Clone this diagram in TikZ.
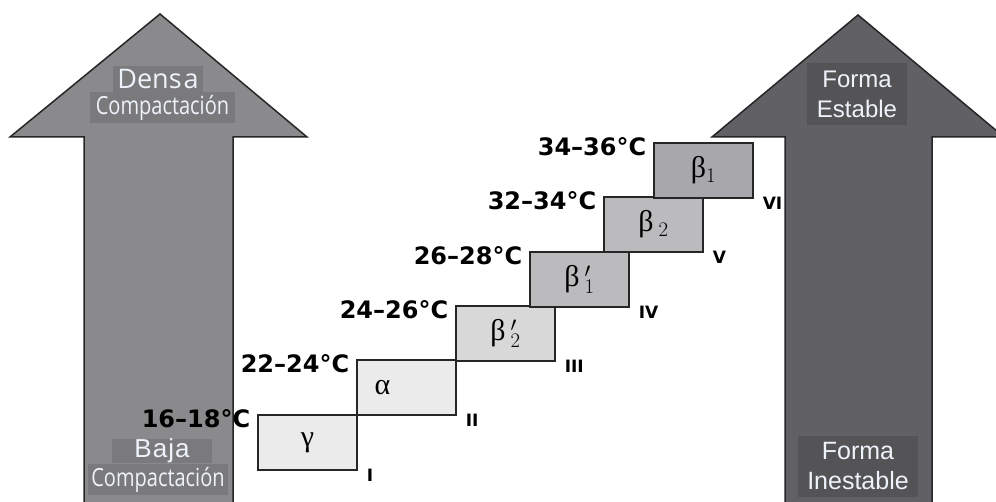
\documentclass[tikz,border=0pt]{standalone}
\usepackage{fontspec}
\setmainfont{Liberation Sans}
\newfontfamily\condfont[FakeStretch=0.8]{Open Sans}
\newfontfamily\densfont{Open Sans}
\newfontfamily\tempfont{DejaVu Sans}
\newfontfamily\grkfont{Liberation Serif}
\usepackage{xcolor}
\usepackage{tikz}
\usetikzlibrary{positioning}

\definecolor{arrowlight}{HTML}{8A8A8C}
\definecolor{arrowdark}{HTML}{616165}
\definecolor{tagleft}{HTML}{7A7A7C}
\definecolor{tagright}{HTML}{545456}
\definecolor{tagtext}{HTML}{EEF2FA}
\definecolor{steplight}{HTML}{EBEBEB}
\definecolor{stepmid}{HTML}{BBBBBD}
\definecolor{stepdark}{HTML}{A8A8AC}

\begin{document}
\begin{tikzpicture}[x=1pt,y=-1pt,
  formbox/.style={draw=black!85,line width=1.2pt,minimum width=99pt,minimum height=55pt,inner sep=0pt,
    font=\grkfont\fontsize{30}{30}\selectfont},
  temp/.style={font=\tempfont\bfseries\fontsize{24}{24}\selectfont,anchor=base east,inner sep=0pt,xshift=-7pt,yshift=-13pt},
  roman/.style={font=\tempfont\bfseries\fontsize{17}{17}\selectfont,anchor=base west,inner sep=0pt,xshift=9pt,yshift=-11pt},
  tag/.style={text=tagtext,inner sep=0pt,align=center}]
  \useasboundingbox (0,0) rectangle (996,502);
  \clip (0,0) rectangle (996,502);

  % the two big arrows
  \filldraw[fill=arrowlight,draw=black!85,line width=1.5pt] (84,504) -- (84,137) -- (10,137) -- (160,14)
    -- (307,137) -- (233,137) -- (233,504);
  \filldraw[fill=arrowdark,draw=black!85,line width=1.5pt] (785,504) -- (785,137) -- (712,137) -- (858,15)
    -- (1004,137) -- (932,137) -- (932,504);

  \node[tag,fill=tagleft,minimum width=90pt,minimum height=26pt,font=\densfont\fontsize{27}{27}\selectfont] (densa)
    at (158,79) {Dens\kern2pt a};
  \node[tag,fill=tagleft,minimum width=145pt,minimum height=31pt,font=\condfont\fontsize{25}{25}\selectfont] (compa)
    at (162.5,107.5) {Compactación};
  \node[tag,fill=tagleft,minimum width=100pt,minimum height=22pt,font=\fontsize{26}{26}\selectfont] (baja)
    at (162,451) {B\kern1pt a\kern1pt j\kern1pt a};
  \node[tag,fill=tagleft,minimum width=140pt,minimum height=31pt,font=\condfont\fontsize{25}{25}\selectfont] (compb)
    at (158,479.5) {Compactación};
  \node[tag,fill=tagright,minimum width=100pt,minimum height=62pt,font=\fontsize{24}{30}\selectfont] (estable)
    at (857,94) {Forma\\Estable};
  \node[tag,fill=tagright,minimum width=120pt,minimum height=61pt,font=\fontsize{25}{30}\selectfont] (inestable)
    at (858,466.5) {Forma\\Inestable};

  % the six forms
  \node[formbox,fill=steplight] (gamma) at (307.5,442.5) {\raisebox{-5pt}{γ}};
  \node[formbox,fill=steplight] (alpha) at (406.5,387.5) {\hspace*{-48pt}\raisebox{-7pt}{α}};
  \node[formbox,fill=steplight!92!black] (betaii) at (505.5,333.5) {β\,$'_2$};
  \node[formbox,fill=stepmid] (betai) at (579.5,279.5) {β\,$'_1$};
  \node[formbox,fill=stepmid] (beta2) at (653.5,224.5) {β\,$_2$};
  \node[formbox,fill=stepdark] (beta1) at (703.5,170.5) {β$_1$};

  \node[temp] at (gamma.north west) {16–18°C};
  \node[temp] at (alpha.north west) {22–24°C};
  \node[temp] at (betaii.north west) {24–26°C};
  \node[temp] at (betai.north west) {26–28°C};
  \node[temp] at (beta2.north west) {32–34°C};
  \node[temp] at (beta1.north west) {34–36°C};

  \node[roman] at (gamma.south east) {I};
  \node[roman] at (alpha.south east) {II};
  \node[roman] at (betaii.south east) {III};
  \node[roman] at (betai.south east) {IV};
  \node[roman] at (beta2.south east) {V};
  \node[roman] at (beta1.south east) {VI};
\end{tikzpicture}
\end{document}
